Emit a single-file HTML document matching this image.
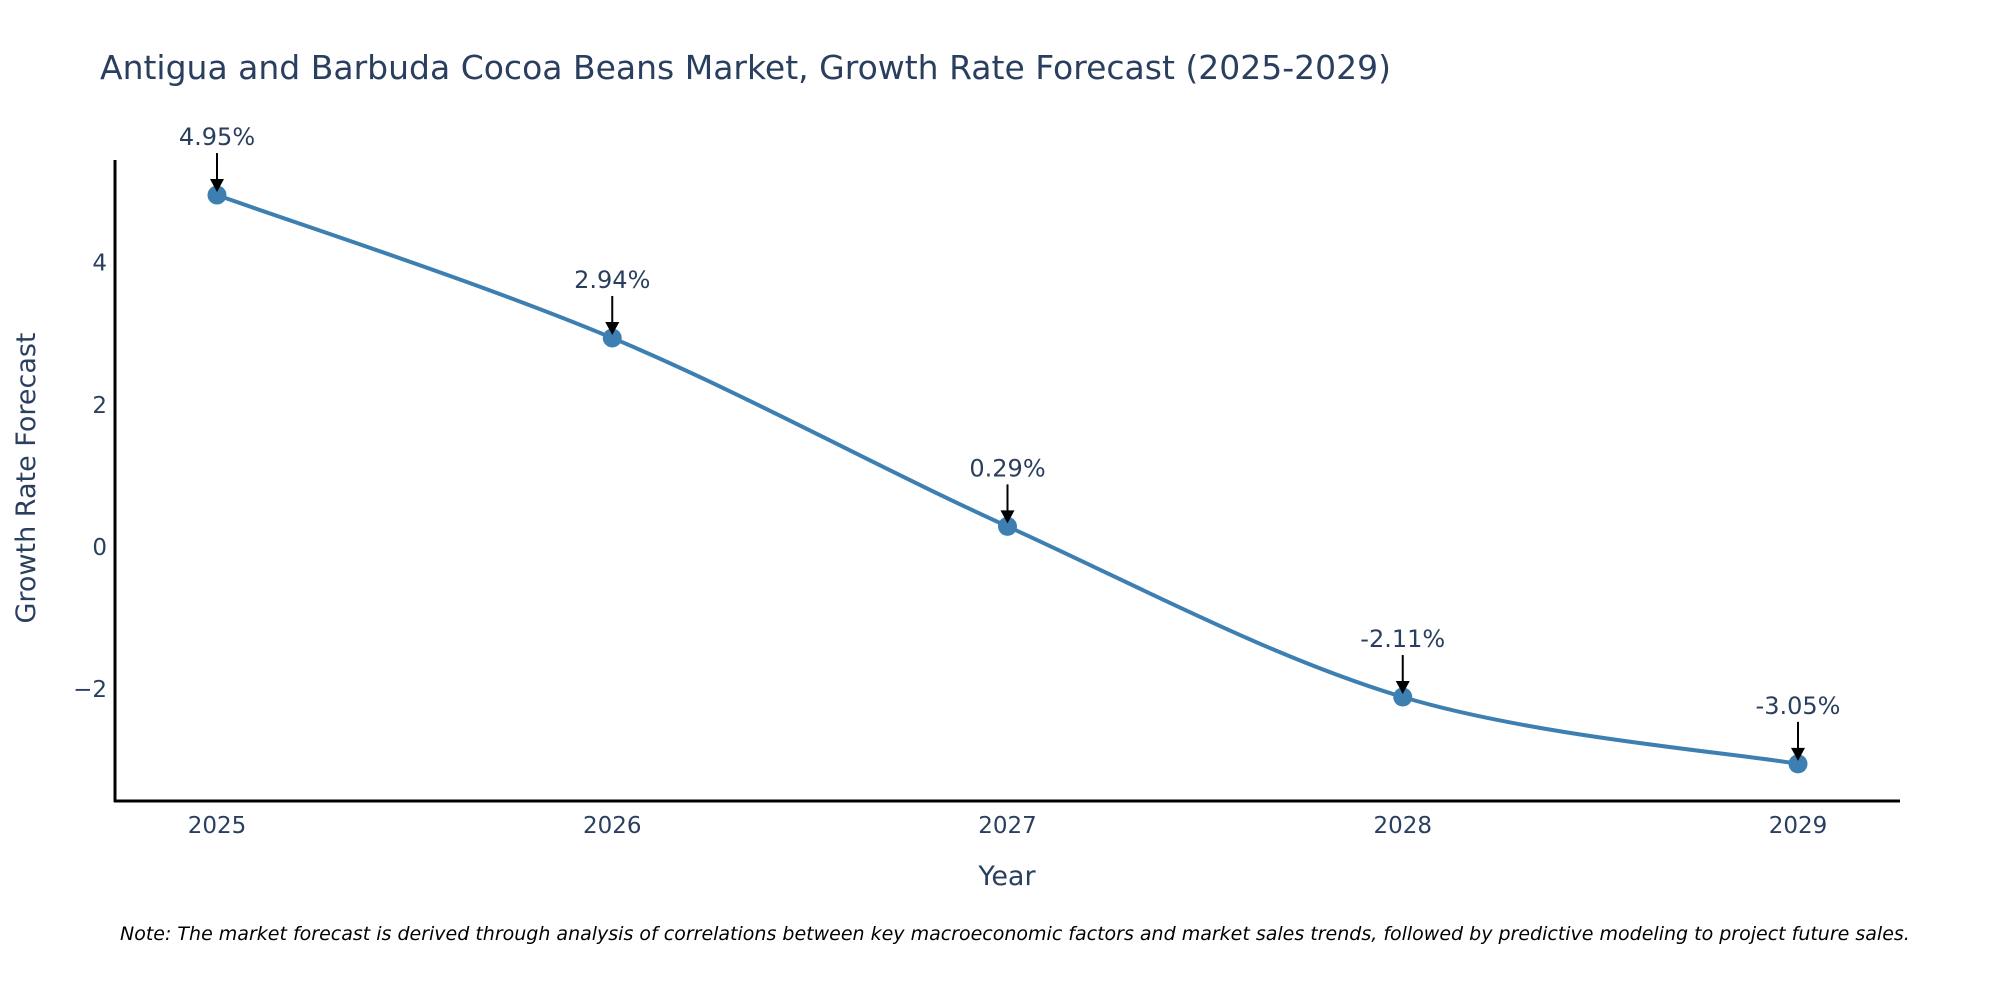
<!DOCTYPE html>
<html><head><meta charset="utf-8"><style>
body{margin:0;background:#fff;}
svg{display:block;font-family:"DejaVu Sans","Liberation Sans",sans-serif;}
</style></head><body>
<svg id="chart" width="2000" height="1000" viewBox="0 0 2000 1000">
<text x="100" y="79" font-size="33" fill="#2a3f5f">Antigua and Barbuda Cocoa Beans Market, Growth Rate Forecast (2025-2029)</text>
<g id="yticks"></g>
<g id="xticks"></g>
<line x1="115" y1="160" x2="115" y2="802" stroke="#000" stroke-width="3"/>
<line x1="114" y1="801" x2="1900" y2="801" stroke="#000" stroke-width="3"/>
<path id="line" fill="none" stroke="#3d7fb1" stroke-width="4"/>
<g id="points"></g>
<g id="annots"></g>
<text x="1007" y="885" font-size="27" fill="#2a3f5f" text-anchor="middle">Year</text>
<text transform="translate(35,478) rotate(-90)" font-size="27" fill="#2a3f5f" text-anchor="middle">Growth Rate Forecast</text>
<text x="120" y="940" font-size="19" font-style="italic" fill="#000">Note: The market forecast is derived through analysis of correlations between key macroeconomic factors and market sales trends, followed by predictive modeling to project future sales.</text>
</svg>
<script>
const years = [2025, 2026, 2027, 2028, 2029];
const growth = [4.95, 2.94, 0.29, -2.11, -3.05];
const labels = ["4.95%", "2.94%", "0.29%", "-2.11%", "-3.05%"];
const yTickValues = [-2, 0, 2, 4];
const yTickLabels = ["−2", "0", "2", "4"];

const NS = "http://www.w3.org/2000/svg";
const xS = v => 217 + (v - 2025) * (1798 - 217) / 4;
const yS = v => 547 - v * 71.1;
function mk(tag, attrs, parent) {
  const e = document.createElementNS(NS, tag);
  for (const k in attrs) e.setAttribute(k, attrs[k]);
  parent.appendChild(e);
  return e;
}
const yt = document.getElementById('yticks');
yTickValues.forEach((v, i) => {
  const t = mk('text', {x: 107, y: yS(v) + 8, 'font-size': 23, fill: '#2a3f5f', 'text-anchor': 'end'}, yt);
  
  
  t.textContent = yTickLabels[i];
});
const xt = document.getElementById('xticks');
years.forEach(y => {
  const t = mk('text', {x: xS(y), y: 833, 'font-size': 23, fill: '#2a3f5f', 'text-anchor': 'middle'}, xt);
  
  
  t.textContent = y;
});
const pts = years.map((y, i) => [xS(y), yS(growth[i])]);
let d = `M${pts[0][0]},${pts[0][1]}`;
for (let i = 0; i < pts.length - 1; i++) {
  const p0 = pts[Math.max(i - 1, 0)], p1 = pts[i], p2 = pts[i + 1], p3 = pts[Math.min(i + 2, pts.length - 1)];
  const c1 = [p1[0] + (p2[0] - p0[0]) / 6, p1[1] + (p2[1] - p0[1]) / 6];
  const c2 = [p2[0] - (p3[0] - p1[0]) / 6, p2[1] - (p3[1] - p1[1]) / 6];
  d += ` C${c1[0]},${c1[1]} ${c2[0]},${c2[1]} ${p2[0]},${p2[1]}`;
}
document.getElementById('line').setAttribute('d', d);
const pg = document.getElementById('points');
const ag = document.getElementById('annots');
pts.forEach((p, i) => {
  const c = mk('circle', {cx: p[0], cy: p[1], r: 9.5, fill: '#3d7fb1'}, pg);
  
  
  const l = mk('line', {x1: p[0], y1: p[1] - 42, x2: p[0], y2: p[1] - 14, stroke: '#000', 'stroke-width': 2}, ag);
  
  
  const h = mk('polygon', {points: `${p[0]-7},${p[1]-16} ${p[0]+7},${p[1]-16} ${p[0]},${p[1]-3}`, fill: '#000'}, ag);
  
  
  const t = mk('text', {x: p[0], y: p[1] - 50, 'font-size': 24, fill: '#2a3f5f', 'text-anchor': 'middle'}, ag);
  
  
  t.textContent = labels[i];
});
</script>
</body></html>
